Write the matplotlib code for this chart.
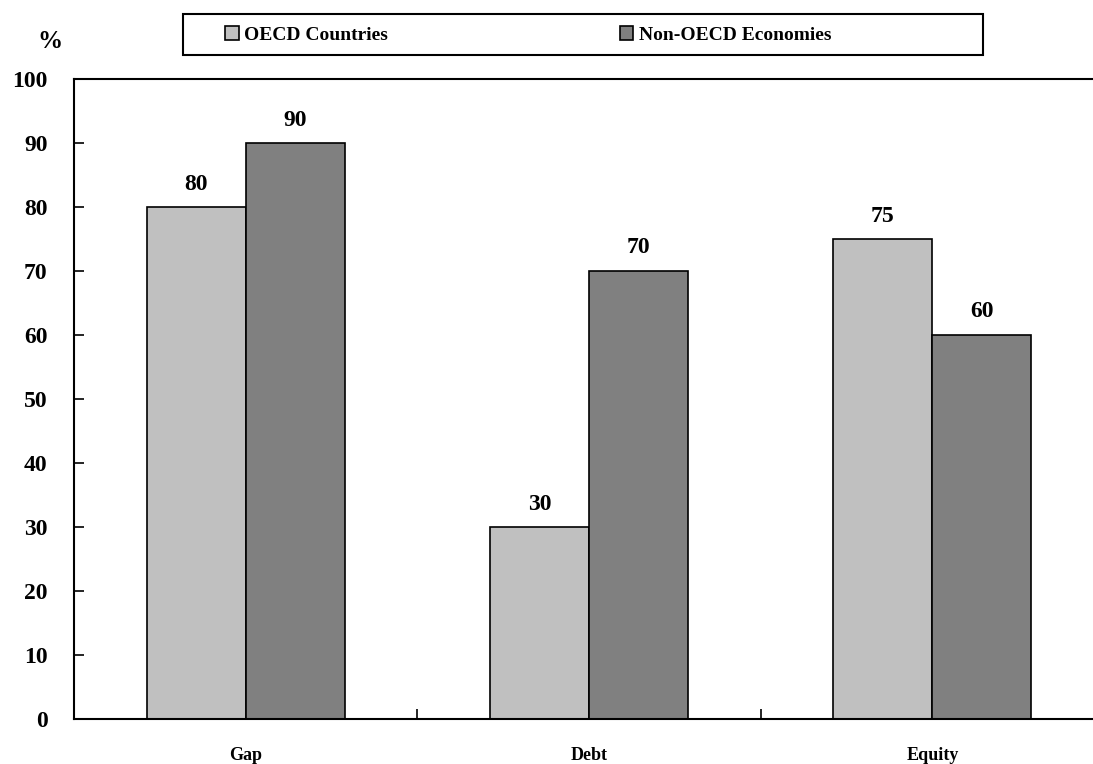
import numpy as np
import matplotlib.pyplot as plt
from matplotlib.patches import Rectangle

categories = ["Gap", "Debt", "Equity"]
oecd = [80, 30, 75]
non_oecd = [90, 70, 60]
series_names = ["OECD Countries", "Non-OECD Economies"]

plt.rcParams['font.family'] = ['Liberation Serif', 'DejaVu Serif']
plt.rcParams['font.weight'] = 'bold'

W, H = 1093, 764
fig = plt.figure(figsize=(W / 100, H / 100), dpi=100)
ax = fig.add_axes([74 / W, 1 - 719 / H, (1104 - 74) / W, (719 - 79) / H])

x = np.arange(len(categories))
w = 0.288
b1 = ax.bar(x - w / 2, oecd, w, color='#c0c0c0', edgecolor='black', linewidth=1.2,
            label=series_names[0])
b2 = ax.bar(x + w / 2, non_oecd, w, color='#808080', edgecolor='black', linewidth=1.2,
            label=series_names[1])
ax.bar_label(b1, padding=9, fontsize=17, fontweight='bold')
ax.bar_label(b2, padding=9, fontsize=17, fontweight='bold')

ax.set_xlim(-0.5, 2.5)
ax.set_ylim(0, 100)
ax.set_yticks(np.arange(0, 101, 10))
ax.tick_params(axis='y', direction='in', length=7, width=1.2, pad=19, labelsize=17)
ax.set_xticks(x)
ax.set_xticklabels(categories, fontsize=13, fontweight='bold')
ax.tick_params(axis='x', which='major', length=0, pad=20)
ax.set_xticks([0.5, 1.5], minor=True)
ax.tick_params(axis='x', which='minor', direction='in', length=7, width=1.2)
for s in ax.spines.values():
    s.set_linewidth(1.5)

fig.text(50 / W, 1 - 42 / H, "%", fontsize=18, fontweight='bold', ha='center', va='center')

# legend box
fig.add_artist(Rectangle((183 / W, 1 - 55 / H), 800 / W, 41 / H, transform=fig.transFigure,
                         fill=False, edgecolor='black', linewidth=1.5))
leg = fig.legend(handles=[b1, b2], loc='center left', ncol=2,
                 bbox_to_anchor=(225 / W, 1 - 35 / H), frameon=False, fontsize=14,
                 handlelength=0.7, handleheight=0.7, handletextpad=0.3,
                 columnspacing=11.9, borderaxespad=0, borderpad=0)
for t in leg.get_texts():
    t.set_fontweight('bold')

fig.savefig('out.png', dpi=100)
